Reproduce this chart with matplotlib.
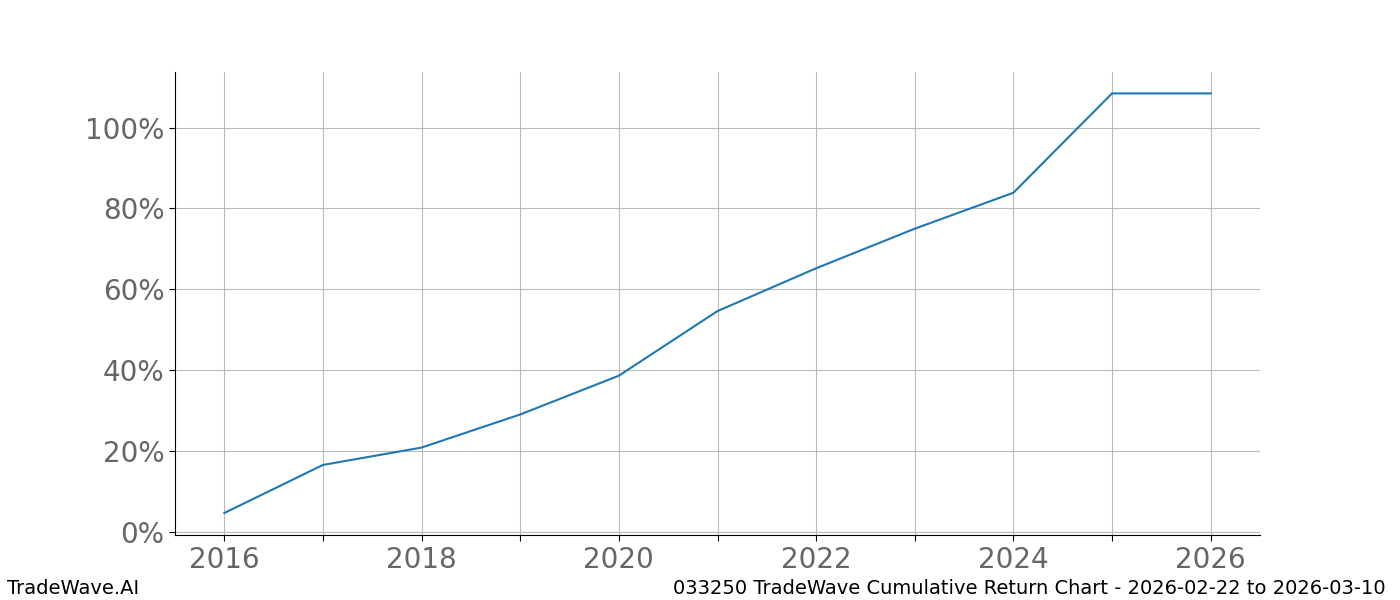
import matplotlib
matplotlib.use("Agg")
import matplotlib.pyplot as plt
from matplotlib.ticker import FuncFormatter, MultipleLocator

years = [2016, 2017, 2018, 2019, 2020, 2021, 2022, 2023, 2024, 2025, 2026]
cum_return = [4.6, 16.5, 20.8, 29.0, 38.6, 54.6, 65.2, 75.0, 83.9, 108.5, 108.5]

title_left = "TradeWave.AI"
title_right = "033250 TradeWave Cumulative Return Chart - 2026-02-22 to 2026-03-10"

fig = plt.figure(figsize=(14, 6), dpi=100)
ax = fig.add_axes([0.125, 0.108, 0.775, 0.772])
ax.plot(years, cum_return, color="#1f77b4", linewidth=1.5)

ax.set_xlim(2015.5, 2026.5)
ax.set_ylim(-0.9, 113.8)
ax.xaxis.set_major_locator(MultipleLocator(1))
ax.xaxis.set_major_formatter(FuncFormatter(lambda v, p: f"{int(round(v))}" if int(round(v)) % 2 == 0 else ""))
ax.yaxis.set_major_locator(MultipleLocator(20))
ax.yaxis.set_major_formatter(FuncFormatter(lambda v, p: f"{v:.0f}%"))
ax.tick_params(axis="both", labelsize=20, labelcolor="#666666", length=4)
ax.grid(True, color="#bbbbbb", linewidth=0.8)
ax.set_axisbelow(True)
for s in ["top", "right"]:
    ax.spines[s].set_visible(False)

fig.text(0.005, 0.02, title_left, fontsize=14, ha="left", va="center")
fig.text(0.99, 0.02, title_right, fontsize=14, ha="right", va="center")

fig.savefig("out.png", dpi=100)
